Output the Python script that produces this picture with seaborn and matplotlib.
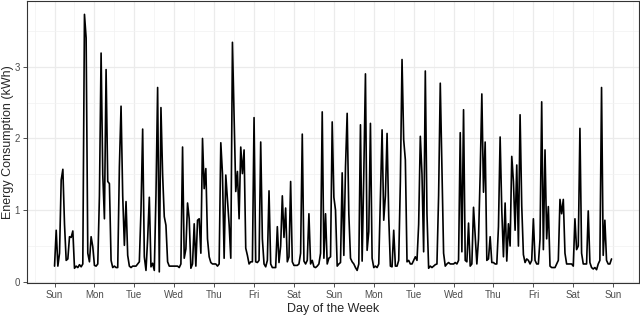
import numpy as np
import pandas as pd
import seaborn as sns
import matplotlib.pyplot as plt
from matplotlib.ticker import MultipleLocator

# hourly energy use (kWh), two weeks starting Sunday 00:00
sun1 = [0.22, 0.72, 0.22, 0.4, 1.42, 1.57, 0.8, 0.3, 0.32, 0.63, 0.62, 0.71,
        0.19, 0.22, 0.2, 0.24, 0.21, 0.25, 3.73, 3.4, 0.4, 0.28, 0.63, 0.49]
mon1 = [0.23, 0.22, 0.25, 1.2, 3.19, 1.5, 0.88, 2.96, 1.4, 1.37, 0.3, 0.2,
        0.22, 0.2, 0.2, 1.6, 2.45, 1.2, 0.51, 1.12, 0.37, 0.22, 0.2, 0.22]
tue1 = [0.22, 0.22, 0.25, 0.28, 1.0, 2.13, 0.35, 0.16, 0.6, 1.18, 0.21, 0.26,
        0.16, 1.2, 2.71, 0.14, 2.43, 1.5, 0.91, 0.79, 0.28, 0.22, 0.22, 0.22]
wed1 = [0.22, 0.22, 0.22, 0.2, 0.25, 1.88, 0.33, 0.46, 1.1, 0.88, 0.19, 0.25,
        0.81, 0.22, 0.86, 0.88, 0.4, 2.0, 1.3, 1.58, 0.6, 0.35, 0.27, 0.25]
thu1 = [0.25, 0.25, 0.22, 0.25, 1.94, 1.51, 0.33, 1.49, 1.14, 0.8, 0.33, 3.34,
        2.3, 1.26, 1.54, 0.88, 1.88, 1.51, 1.84, 0.47, 0.37, 0.25, 0.28, 0.28]
fri1 = [2.29, 0.28, 0.27, 0.3, 1.95, 0.6, 0.25, 0.21, 0.3, 1.27, 0.25, 0.2,
        0.2, 0.2, 0.77, 0.27, 0.5, 1.2, 0.62, 1.03, 0.28, 0.35, 1.4, 0.28]
sat1 = [0.23, 0.23, 0.23, 0.25, 0.4, 2.06, 0.29, 0.25, 0.3, 0.95, 0.25, 0.3,
        0.21, 0.2, 0.22, 0.25, 0.4, 2.37, 0.33, 0.95, 0.25, 0.33, 0.35, 2.23]
sun2 = [1.18, 1.0, 0.22, 0.25, 0.27, 1.52, 0.37, 1.6, 2.35, 0.95, 0.33, 0.28,
        0.25, 0.2, 0.16, 0.25, 2.19, 0.29, 1.5, 2.9, 0.44, 0.7, 2.21, 0.33]
mon2 = [0.2, 0.22, 0.2, 0.25, 1.2, 2.12, 0.86, 1.2, 2.07, 0.91, 0.22, 0.21,
        0.72, 0.22, 0.22, 0.3, 1.4, 3.1, 1.98, 1.7, 0.28, 0.3, 0.25, 0.25]
tue2 = [0.3, 0.35, 0.3, 0.8, 2.03, 1.5, 0.42, 2.94, 0.95, 0.19, 0.22, 0.2,
        0.22, 0.24, 0.25, 1.2, 2.77, 1.6, 0.4, 0.22, 0.25, 0.27, 0.25, 0.25]
wed2 = [0.25, 0.27, 0.25, 0.3, 2.08, 0.42, 2.4, 0.3, 0.28, 0.82, 0.22, 0.25,
        1.04, 0.65, 0.25, 0.6, 1.5, 2.62, 1.25, 1.95, 0.3, 0.32, 0.63, 0.27]
thu2 = [0.27, 0.25, 0.25, 0.77, 2.02, 1.0, 0.35, 1.1, 0.29, 0.81, 0.5, 1.75,
        1.4, 0.72, 1.63, 0.5, 2.33, 1.06, 0.38, 0.27, 0.32, 0.3, 0.25, 0.3]
fri2 = [0.88, 0.3, 0.25, 0.25, 0.6, 2.51, 0.45, 1.84, 0.6, 1.05, 0.22, 0.2,
        0.2, 0.2, 0.25, 0.3, 1.15, 0.95, 1.15, 0.4, 0.25, 0.25, 0.25, 0.25]
sat2 = [0.22, 0.88, 0.45, 0.5, 2.14, 0.4, 0.25, 0.25, 0.25, 0.99, 0.27, 0.2,
        0.18, 0.2, 0.17, 0.25, 0.3, 2.71, 0.37, 0.86, 0.3, 0.25, 0.25, 0.32]

day_labels = ["Sun", "Mon", "Tue", "Wed", "Thu", "Fri", "Sat",
              "Sun", "Mon", "Tue", "Wed", "Thu", "Fri", "Sat", "Sun"]

kwh = sun1 + mon1 + tue1 + wed1 + thu1 + fri1 + sat1 + \
      sun2 + mon2 + tue2 + wed2 + thu2 + fri2 + sat2
df = pd.DataFrame({"day": np.arange(len(kwh)) / 24, "kwh": kwh})

sns.set_theme(style="white")
plt.rcParams['font.family'] = ['Liberation Sans', 'DejaVu Sans']

fig, ax = plt.subplots(figsize=(6.4, 3.15), dpi=100)
fig.subplots_adjust(left=0.0417, right=0.999, top=0.997, bottom=0.101)

sns.lineplot(data=df, x="day", y="kwh", color="black", linewidth=1.2, ax=ax)

ax.set_xlim(-0.698, 14.656)
ax.set_ylim(-0.018, 3.917)
ax.set_xticks(range(len(day_labels)))
ax.set_xticklabels(day_labels)
ax.set_yticks([0, 1, 2, 3])
ax.xaxis.set_minor_locator(MultipleLocator(0.5))
ax.yaxis.set_minor_locator(MultipleLocator(0.5))

# theme_bw look
ax.set_axisbelow(True)
ax.grid(which="major", color="#EBEBEB", linewidth=0.9)
ax.grid(which="minor", color="#F2F2F2", linewidth=0.5)
for s in ax.spines.values():
    s.set_color("#333333")
    s.set_linewidth(0.8)
    s.set_visible(True)
ax.tick_params(which="major", length=3, width=0.6, color="#333333",
               labelsize=7, labelcolor="#4D4D4D", pad=2, bottom=True, left=True)
ax.tick_params(which="minor", length=0)

ax.set_xlabel("Day of the Week", fontsize=9, labelpad=2)
ax.set_ylabel("Energy Consumption (kWh)", fontsize=9)
# y title sits right at the left edge, centred at about x = 8 px
ax.yaxis.label.set_va("center")
ax.yaxis.set_label_coords(-0.0305, 0.5)

plt.savefig("out.png", dpi=100)
